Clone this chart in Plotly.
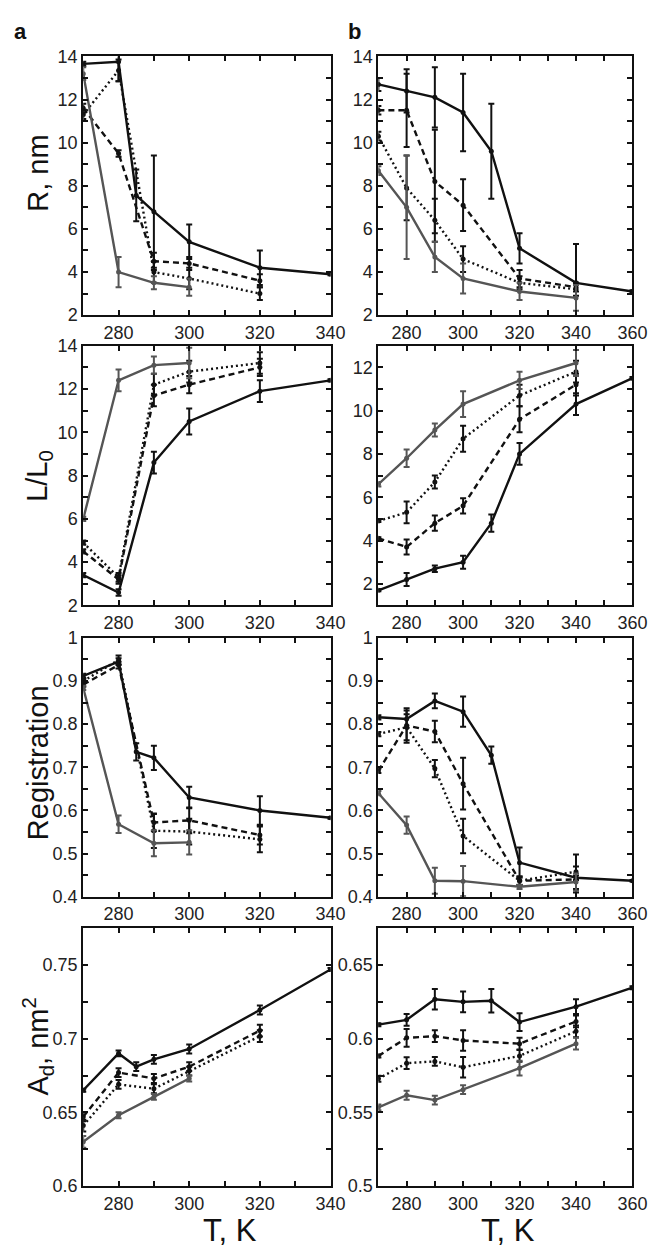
import plotly.graph_objects as go

# ---------------- data ----------------
# column a
a_x_solid = [270, 280, 285, 290, 300, 320, 340]
a_x_other = [270, 280, 290, 300, 320]
a_x_gray = [270, 280, 290, 300]
a_x_solid_L = [270, 280, 290, 300, 320, 340]

# column b
b_x_solid = [270, 280, 290, 300, 310, 320, 340, 360]
b_x_other = [270, 280, 290, 300, 320, 340]

# R, nm (a)
aR_solid = [13.65, 13.75, 7.55, 6.8, 5.4, 4.2, 3.9]
aR_solid_e = [0.1, 0.9, 1.2, 2.6, 0.8, 0.8, 0.05]
aR_dash = [11.6, 9.5, 4.5, 4.4, 3.6]
aR_dash_e = [0.2, 0.15, 0.4, 0.3, 0.3]
aR_dot = [11.3, 13.35, 4.0, 3.7, 3.0]
aR_dot_e = [0.2, 0.5, 0.5, 0.5, 0.3]
aR_gray = [13.2, 4.0, 3.5, 3.3]
aR_gray_e = [0.3, 0.7, 0.3, 0.4]

# R, nm (b)
bR_solid = [12.7, 12.4, 12.1, 11.4, 9.6, 5.1, 3.5, 3.1]
bR_solid_e = [0.3, 1.0, 1.4, 1.8, 2.2, 0.7, 1.8, 0.05]
bR_dash = [11.5, 11.5, 8.2, 7.1, 3.7, 3.3]
bR_dash_e = [0.2, 1.7, 2.4, 1.2, 0.4, 0.2]
bR_dot = [10.3, 7.9, 6.4, 4.6, 3.5, 3.2]
bR_dot_e = [0.2, 1.5, 1.0, 0.6, 0.3, 0.3]
bR_gray = [8.7, 7.0, 4.7, 3.7, 3.1, 2.8]
bR_gray_e = [0.2, 2.4, 0.7, 0.7, 0.4, 0.6]

# L/L0 (a)
aL_solid = [3.4, 2.6, 8.6, 10.5, 11.9, 12.4]
aL_solid_e = [0.1, 0.15, 0.5, 0.6, 0.5, 0.05]
aL_dash = [4.5, 3.2, 11.7, 12.2, 13.0]
aL_dash_e = [0.1, 0.2, 0.5, 0.4, 0.4]
aL_dot = [4.9, 3.3, 12.2, 12.8, 13.2]
aL_dot_e = [0.1, 0.2, 0.5, 0.5, 0.5]
aL_gray = [6.0, 12.4, 13.1, 13.2]
aL_gray_e = [0.1, 0.5, 0.4, 0.7]

# L/L0 (b)
bL_solid = [1.7, 2.2, 2.7, 3.0, 4.8, 8.0, 10.3, 11.5]
bL_solid_e = [0.05, 0.3, 0.15, 0.3, 0.4, 0.5, 0.5, 0.05]
bL_dash = [4.1, 3.7, 4.8, 5.6, 9.6, 11.2]
bL_dash_e = [0.05, 0.35, 0.35, 0.35, 0.6, 0.5]
bL_dot = [4.9, 5.3, 6.7, 8.7, 10.7, 11.8]
bL_dot_e = [0.05, 0.5, 0.3, 0.6, 0.5, 0.5]
bL_gray = [6.6, 7.8, 9.1, 10.3, 11.4, 12.2]
bL_gray_e = [0.1, 0.4, 0.3, 0.6, 0.4, 0.6]

# Registration (a)
aG_solid = [0.912, 0.945, 0.736, 0.722, 0.630, 0.600, 0.583]
aG_solid_e = [0.005, 0.008, 0.02, 0.028, 0.025, 0.033, 0.002]
aG_dash = [0.892, 0.937, 0.572, 0.577, 0.543]
aG_dash_e = [0.005, 0.008, 0.02, 0.03, 0.022]
aG_dot = [0.90, 0.949, 0.553, 0.551, 0.533]
aG_dot_e = [0.005, 0.01, 0.04, 0.03, 0.03]
aG_gray = [0.884, 0.568, 0.524, 0.526]
aG_gray_e = [0.005, 0.02, 0.03, 0.028]

# Registration (b)
bG_solid = [0.816, 0.812, 0.854, 0.829, 0.728, 0.479, 0.444, 0.437]
bG_solid_e = [0.005, 0.02, 0.017, 0.035, 0.02, 0.035, 0.005, 0.002]
bG_dash = [0.692, 0.797, 0.783, 0.662, 0.437, 0.440]
bG_dash_e = [0.005, 0.04, 0.025, 0.06, 0.01, 0.03]
bG_dot = [0.777, 0.793, 0.697, 0.541, 0.437, 0.458]
bG_dot_e = [0.005, 0.03, 0.02, 0.04, 0.01, 0.04]
bG_gray = [0.640, 0.566, 0.437, 0.436, 0.423, 0.434]
bG_gray_e = [0.005, 0.02, 0.03, 0.035, 0.005, 0.02]

# A_d, nm^2 (a)
aA_solid = [0.665, 0.690, 0.681, 0.686, 0.693, 0.7195, 0.747]
aA_solid_e = [0.001, 0.002, 0.003, 0.003, 0.003, 0.003, 0.001]
aA_dash = [0.647, 0.677, 0.673, 0.681, 0.7055]
aA_dash_e = [0.003, 0.003, 0.003, 0.003, 0.004]
aA_dot = [0.641, 0.669, 0.666, 0.678, 0.7017]
aA_dot_e = [0.004, 0.003, 0.003, 0.003, 0.004]
aA_gray = [0.630, 0.648, 0.6605, 0.673]
aA_gray_e = [0.004, 0.002, 0.002, 0.002]

# A_d, nm^2 (b)
bA_solid = [0.6095, 0.6128, 0.6268, 0.625, 0.6257, 0.6113, 0.6217, 0.6346]
bA_solid_e = [0.001, 0.004, 0.007, 0.007, 0.008, 0.006, 0.005, 0.001]
bA_dash = [0.5883, 0.6006, 0.6017, 0.5988, 0.5966, 0.6117]
bA_dash_e = [0.001, 0.006, 0.004, 0.007, 0.004, 0.004]
bA_dot = [0.5728, 0.5834, 0.5846, 0.5806, 0.5883, 0.605]
bA_dot_e = [0.002, 0.004, 0.003, 0.007, 0.004, 0.004]
bA_gray = [0.5534, 0.5616, 0.5583, 0.5654, 0.580, 0.5966]
bA_gray_e = [0.002, 0.003, 0.003, 0.003, 0.005, 0.004]

y_titles = ["R, nm", "L/L<sub>0</sub>", "Registration", "A<sub>d</sub>, nm<sup>2</sup>"]
x_title = "T, K"
panel_labels = ["a", "b"]

# ---------------- style ----------------
BLACK = "#111111"
GRAY = "#555555"
FONT = "Liberation Sans, Arial, sans-serif"
W, H = 660, 1250

col_px = [(77, 330), (379, 639)]
row_px = [(39, 302), (333, 597), (630, 893), (925, 1187)]
x_ranges = [[270, 340], [270, 360]]
y_ranges = [
    ([2, 14], [2, 14]),
    ([2, 14], [1, 13]),
    ([0.4, 1.0], [0.4, 1.0]),
    ([0.6, 0.775], [0.5, 0.675]),
]
y_ticks = [
    ((2, 2, 1), (2, 2, 1)),
    ((2, 2, 1), (2, 2, 1)),
    ((0.4, 0.1, 0.05), (0.4, 0.1, 0.05)),
    ((0.6, 0.05, 0.025), (0.5, 0.05, 0.025)),
]

styles = {
    "solid": dict(color=BLACK, dash="solid"),
    "dash": dict(color=BLACK, dash="6px,4px"),
    "dot": dict(color=BLACK, dash="2px,3px"),
    "gray": dict(color=GRAY, dash="solid"),
}

panels = {
    (0, 0): [(a_x_solid, aR_solid, aR_solid_e, "solid"), (a_x_other, aR_dash, aR_dash_e, "dash"),
             (a_x_other, aR_dot, aR_dot_e, "dot"), (a_x_gray, aR_gray, aR_gray_e, "gray")],
    (0, 1): [(b_x_solid, bR_solid, bR_solid_e, "solid"), (b_x_other, bR_dash, bR_dash_e, "dash"),
             (b_x_other, bR_dot, bR_dot_e, "dot"), (b_x_other, bR_gray, bR_gray_e, "gray")],
    (1, 0): [(a_x_solid_L, aL_solid, aL_solid_e, "solid"), (a_x_other, aL_dash, aL_dash_e, "dash"),
             (a_x_other, aL_dot, aL_dot_e, "dot"), (a_x_gray, aL_gray, aL_gray_e, "gray")],
    (1, 1): [(b_x_solid, bL_solid, bL_solid_e, "solid"), (b_x_other, bL_dash, bL_dash_e, "dash"),
             (b_x_other, bL_dot, bL_dot_e, "dot"), (b_x_other, bL_gray, bL_gray_e, "gray")],
    (2, 0): [(a_x_solid, aG_solid, aG_solid_e, "solid"), (a_x_other, aG_dash, aG_dash_e, "dash"),
             (a_x_other, aG_dot, aG_dot_e, "dot"), (a_x_gray, aG_gray, aG_gray_e, "gray")],
    (2, 1): [(b_x_solid, bG_solid, bG_solid_e, "solid"), (b_x_other, bG_dash, bG_dash_e, "dash"),
             (b_x_other, bG_dot, bG_dot_e, "dot"), (b_x_other, bG_gray, bG_gray_e, "gray")],
    (3, 0): [(a_x_solid, aA_solid, aA_solid_e, "solid"), (a_x_other, aA_dash, aA_dash_e, "dash"),
             (a_x_other, aA_dot, aA_dot_e, "dot"), (a_x_gray, aA_gray, aA_gray_e, "gray")],
    (3, 1): [(b_x_solid, bA_solid, bA_solid_e, "solid"), (b_x_other, bA_dash, bA_dash_e, "dash"),
             (b_x_other, bA_dot, bA_dot_e, "dot"), (b_x_other, bA_gray, bA_gray_e, "gray")],
}

fig = go.Figure()
layout = {}
annotations = []

for r in range(4):
    for c in range(2):
        idx = r * 2 + c + 1
        xa = "x" if idx == 1 else f"x{idx}"
        ya = "y" if idx == 1 else f"y{idx}"
        xkey = "xaxis" if idx == 1 else f"xaxis{idx}"
        ykey = "yaxis" if idx == 1 else f"yaxis{idx}"
        x0, x1 = col_px[c]
        t0, t1 = row_px[r]
        common = dict(
            showline=True, linecolor=BLACK, linewidth=2, mirror="allticks",
            ticks="inside", ticklen=5, tickwidth=2, tickcolor=BLACK,
            showgrid=False, zeroline=False,
            tickfont=dict(family=FONT, size=18, color="#222222"),
        )
        layout[xkey] = dict(
            domain=[x0 / W, x1 / W], anchor=ya, range=x_ranges[c],
            tick0=280, dtick=20,
            minor=dict(tick0=270, dtick=10, ticks="inside", ticklen=5, tickwidth=2, tickcolor=BLACK),
            **common,
        )
        tk0, dt, mdt = y_ticks[r][c]
        layout[ykey] = dict(
            domain=[1 - t1 / H, 1 - t0 / H], anchor=xa, range=y_ranges[r][c],
            tick0=tk0, dtick=dt,
            minor=dict(tick0=tk0, dtick=mdt, ticks="inside", ticklen=5, tickwidth=2, tickcolor=BLACK),
            **common,
        )
        for xs, ys, es, st in panels[(r, c)]:
            s = styles[st]
            fig.add_trace(go.Scatter(
                x=xs, y=ys, xaxis=xa, yaxis=ya, mode="lines+markers",
                line=dict(color=s["color"], width=2.4, dash=s["dash"]),
                marker=dict(color=s["color"], size=5),
                error_y=dict(type="data", array=es, visible=True, color=s["color"],
                             thickness=2, width=3),
                showlegend=False,
            ))

# y titles (left column)
ytitle_centers = [158, 465, 757, 1045]
for r in range(4):
    annotations.append(dict(
        text=y_titles[r], x=31 / W, y=1 - ytitle_centers[r] / H, xref="paper", yref="paper",
        showarrow=False, textangle=-90, font=dict(family=FONT, size=29, color=BLACK),
        xanchor="center", yanchor="middle",
    ))

# x titles
for cx in (227, 512):
    annotations.append(dict(
        text=x_title, x=cx / W, y=1 - 1232 / H, xref="paper", yref="paper",
        showarrow=False, font=dict(family=FONT, size=31, color=BLACK),
        xanchor="center", yanchor="middle",
    ))

# panel labels
for lab, px in zip(panel_labels, (13, 355)):
    annotations.append(dict(
        text=f"<b>{lab}</b>", x=px / W, y=1 - 14 / H, xref="paper", yref="paper",
        showarrow=False, font=dict(family=FONT, size=22, color=BLACK),
        xanchor="center", yanchor="middle",
    ))

fig.update_layout(
    width=W, height=H, margin=dict(l=0, r=0, t=0, b=0),
    paper_bgcolor="white", plot_bgcolor="white",
    annotations=annotations, **layout,
)

fig.write_html("out.html")
